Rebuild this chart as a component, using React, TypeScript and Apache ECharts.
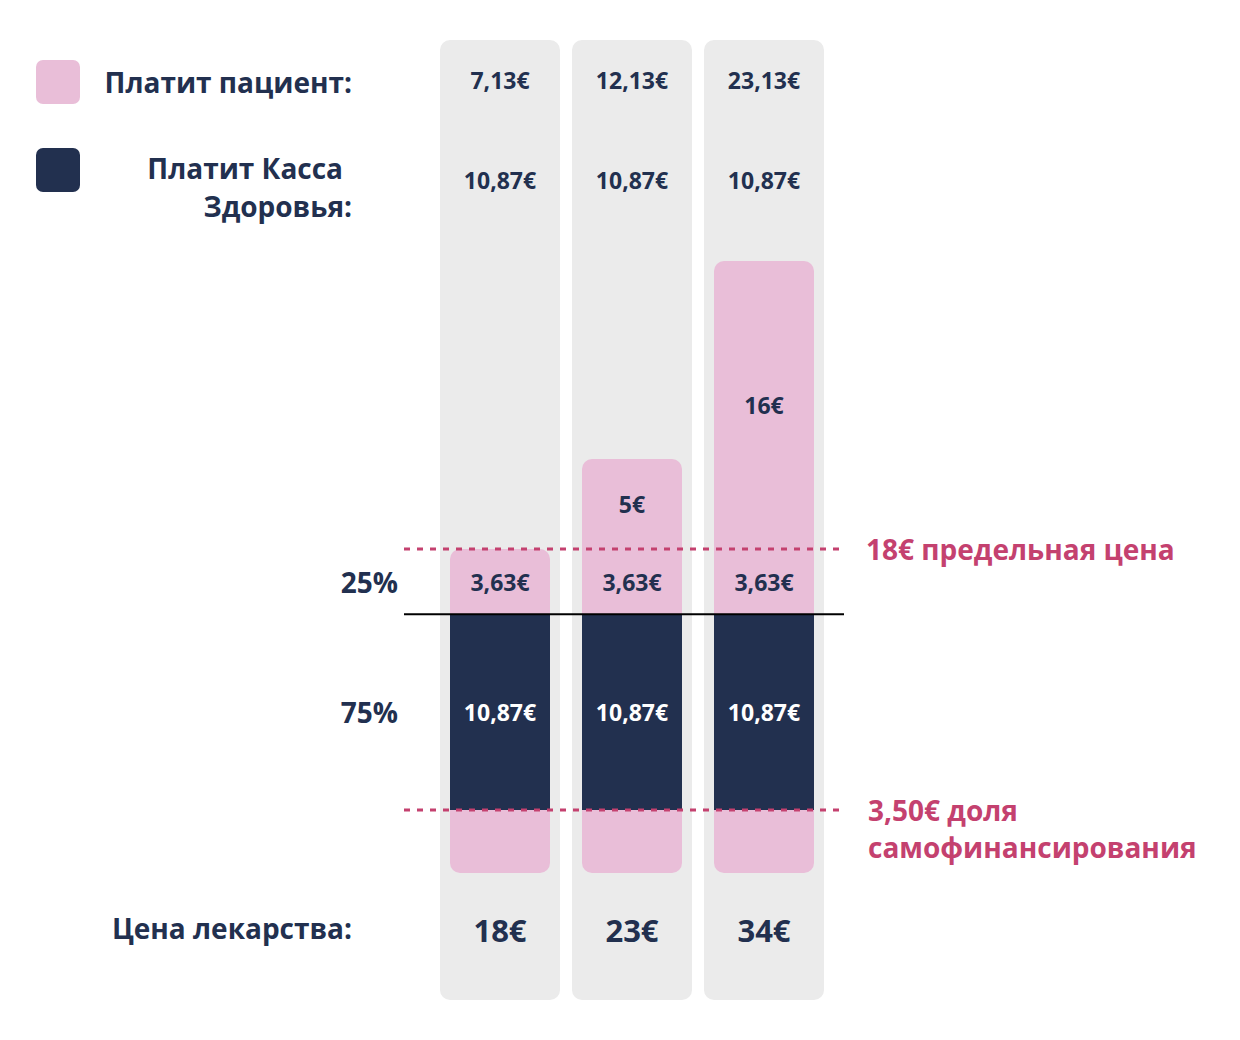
import React, { useEffect, useRef } from "react";
import * as echarts from "echarts";

const categories = ["18€", "23€", "34€"];
const selfPay = [3.5, 3.5, 3.5];
const kassaShare = [10.87, 10.87, 10.87];
const copay25 = [3.63, 3.63, 3.63];
const aboveLimit = [0, 5, 16];
const patientTotal = [7.13, 12.13, 23.13];
const kassaTotal = [10.87, 10.87, 10.87];
const limitPrice = 18;
const selfShare = 3.5;
const shareLabels = ["25%", "75%"];

const PINK = "#e9bed8";
const NAVY = "#22304f";
const GREY = "#ebebeb";
const MAGENTA = "#c4416f";
const FONT = "Open Sans";

const fmt = (v: number) =>
  (Number.isInteger(v) ? String(v) : v.toFixed(2).replace(".", ",")) + "€";

export default function App() {
  const ref = useRef<HTMLDivElement>(null);
  useEffect(() => {
    document.body.style.margin = "0";
    const chart = echarts.init(ref.current!, null, { renderer: "svg" });
    const labelStyle = (color: string) => ({
      show: true,
      position: "inside" as const,
      color,
      fontFamily: FONT,
      fontWeight: "bold" as const,
      fontSize: 23,
      formatter: (p: any) => (p.value > 0 ? fmt(p.value) : ""),
    });
    chart.setOption({
      animation: false,
      grid: { left: 434, width: 396, top: 153, height: 720 },
      xAxis: { type: "category", data: categories, show: false },
      yAxis: { type: "value", min: 0, max: 40, show: false },
      series: [
        {
          type: "bar",
          stack: "p",
          barWidth: 100,
          data: selfPay,
          itemStyle: { color: PINK, borderRadius: [0, 0, 10, 10] },
          z: 3,
        },
        {
          type: "bar",
          stack: "p",
          data: kassaShare,
          itemStyle: { color: NAVY },
          label: labelStyle("#ffffff"),
          z: 3,
        },
        {
          type: "bar",
          stack: "p",
          data: copay25.map((v, i) => ({
            value: v,
            itemStyle: {
              borderRadius: aboveLimit[i] > 0 ? 0 : [10, 10, 0, 0],
            },
          })),
          itemStyle: { color: PINK },
          label: labelStyle(NAVY),
          z: 3,
        },
        {
          type: "bar",
          stack: "p",
          data: aboveLimit,
          itemStyle: { color: PINK, borderRadius: [10, 10, 0, 0] },
          label: labelStyle(NAVY),
          z: 3,
        },
      ],
    });

    const cx = categories.map((c) => chart.convertToPixel({ xAxisIndex: 0 }, c) as number);
    const py = (v: number) => chart.convertToPixel({ yAxisIndex: 0 }, v) as number;
    const yLimit = py(limitPrice);
    const ySelf = py(selfShare);
    const yShare = py(selfShare + kassaShare[0]);
    const y25 = py(selfShare + kassaShare[0] + copay25[0] / 2);
    const y75 = py(selfShare + kassaShare[0] / 2);

    const txt = (x: number, y: number, text: string, size: number, align: string, color = NAVY) => ({
      type: "text",
      x,
      y,
      z: 100,
      style: {
        text,
        fill: color,
        fontFamily: FONT,
        fontWeight: "bold",
        fontSize: size,
        textAlign: align,
        textVerticalAlign: "middle",
      },
    });

    const graphic: any[] = [];
    cx.forEach((x, i) => {
      graphic.push({
        type: "rect",
        z: -10,
        shape: { x: x - 60, y: 40, width: 120, height: 960, r: 10 },
        style: { fill: GREY },
      });
      graphic.push(txt(x, 80, fmt(patientTotal[i]), 23, "center"));
      graphic.push(txt(x, 180, fmt(kassaTotal[i]), 23, "center"));
      graphic.push(txt(x, 930, categories[i], 31, "center"));
    });
    // legend
    graphic.push({ type: "rect", shape: { x: 36, y: 60, width: 44, height: 44, r: 7 }, style: { fill: PINK } });
    graphic.push({ type: "rect", shape: { x: 36, y: 148, width: 44, height: 44, r: 7 }, style: { fill: NAVY } });
    graphic.push(txt(352, 82, "Платит пациент:", 28, "right"));
    graphic.push(txt(343, 168, "Платит Касса", 28, "right"));
    graphic.push(txt(352, 206, "Здоровья:", 28, "right"));
    graphic.push(txt(352, 928, "Цена лекарства:", 28, "right"));
    // shares
    graphic.push(txt(398, y25, shareLabels[0], 28, "right"));
    graphic.push(txt(398, y75, shareLabels[1], 28, "right"));
    // lines
    graphic.push({
      type: "line",
      z: 50,
      shape: { x1: 404, y1: yShare, x2: 844, y2: yShare },
      style: { stroke: "#000", lineWidth: 2 },
    });
    [yLimit, ySelf].forEach((y) =>
      graphic.push({
        type: "line",
        z: 50,
        shape: { x1: 404, y1: y, x2: 844, y2: y },
        style: { stroke: MAGENTA, lineWidth: 3, lineDash: [6, 7] },
      })
    );
    graphic.push(txt(866, yLimit, "18€ предельная цена", 28, "left", MAGENTA));
    graphic.push(txt(868, ySelf, "3,50€ доля", 28, "left", MAGENTA));
    graphic.push(txt(868, ySelf + 37, "самофинансирования", 28, "left", MAGENTA));

    chart.setOption({ graphic });
    return () => chart.dispose();
  }, []);
  return <div ref={ref} style={{ width: 1240, height: 1040 }} />;
}
